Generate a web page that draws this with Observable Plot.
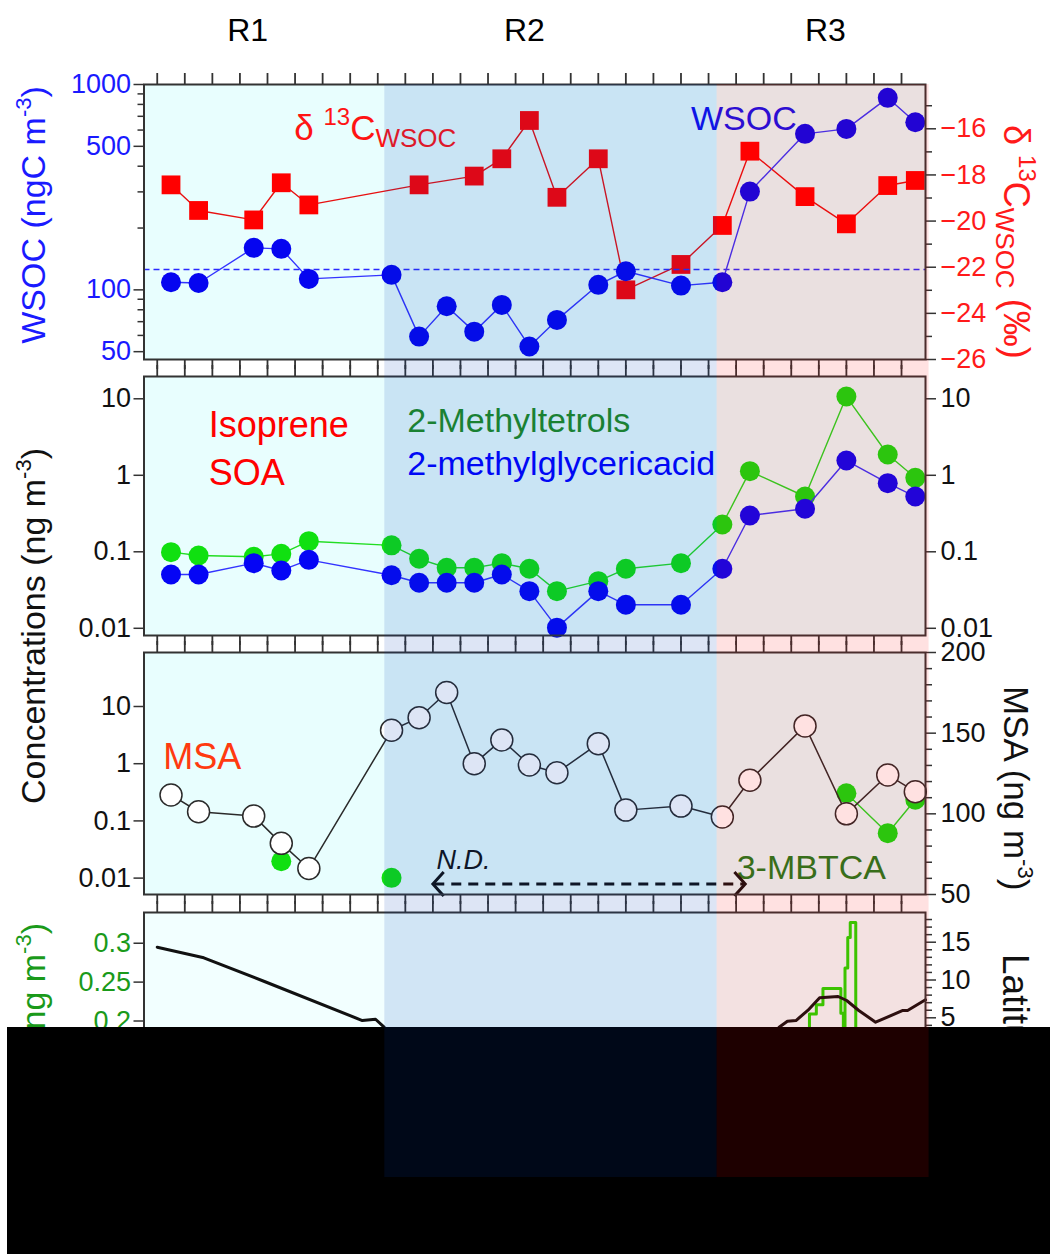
<!DOCTYPE html>
<html>
<head>
<meta charset="utf-8">
<script src="https://cdn.jsdelivr.net/npm/d3@7"></script>
<script src="https://cdn.jsdelivr.net/npm/@observablehq/plot@0.6"></script>
<style>
  html, body { margin: 0; padding: 0; background: #fff; }
  #chart { position: relative; width: 1050px; height: 1254px; overflow: hidden; background: #fff; }
  #chart svg { position: absolute; left: 0; top: 0; }
  #blackout { position: absolute; left: 7px; top: 1027px; width: 1043px; height: 227px; background: #000; }
</style>
</head>
<body>
<div id="chart"></div>
<script>
// ================= DATA =================
// sample positions along the cruise axis (in tick units; one tick = one bin)
const sampleX = [0.5, 1.5, 3.5, 4.5, 5.5, 8.5, 9.5, 10.5, 11.5, 12.5, 13.5, 14.5, 16, 17, 19, 20.5, 21.5, 23.5, 25, 26.5, 27.5];
// panel 1
const wsoc = [108.9, 108, 160.2, 158.4, 113.1, 118.3, 59.2, 83.2, 62.6, 84.5, 53, 71.4, 105.8, 123.2, 104.9, 108.9, 301, 575, 608, 861, 655];
const wsocMean = 125.6;
const d13C = [-18.43, -19.54, -19.95, -18.34, -19.30, null, -18.43, null, -18.05, -17.30, -15.64, -18.97, -17.30, -22.98, -21.88, -20.19, -16.97, -18.94, -20.12, -18.46, -18.24];
// panel 2
const methyltetrols = [0.099, 0.0895, 0.086, 0.094, 0.1376, 0.1214, 0.081, 0.0618, 0.0618, 0.071, 0.060, 0.0306, 0.0413, 0.060, 0.071, 0.2275, 1.132, 0.528, 10.7, 1.87, 0.927];
const methylglyceric = [0.0505, 0.0505, 0.071, 0.057, 0.0785, 0.0494, 0.0394, 0.0394, 0.0394, 0.0505, 0.0306, 0.0102, 0.0306, 0.0203, 0.0203, 0.060, 0.298, 0.365, 1.56, 0.789, 0.528];
// panel 3
const msa = [111.7, 101.3, 98.6, 81.7, 66.1, 151.8, 159.6, 175.2, 131.1, 145.8, 130.3, 125.5, 143.5, 102.3, 104.8, 98.0, 120.8, 154.5, 100.0, 124.1, 113.7];
const mbtca = [null, null, null, 0.0197, null, 0.0101, null, null, null, null, null, null, null, null, null, null, null, null, 0.305, 0.061, 0.234];
// panel 4
const mbtcaHiX = [23.3, 23.66, 23.91, 24.15, 24.80, 24.89, 24.95, 25.05, 25.14, 25.34, 25.6];
const mbtcaHiV = [0.15, 0.209, 0.221, 0.2419, 0.21, 0.15, 0.268, 0.3073, 0.3266, 0.15, 0.15];
const latX = [0, 1.69, 3.89, 7.44, 7.92, 8.23, null, 22.56, 22.86, 23.17, 23.60, 24.03, 24.70, 25.01, 25.45, 26.06, 27.05, 27.22, 27.87];
const latV = [14.34, 12.94, 9.80, 4.64, 4.81, 3.76, null, 3.76, 4.55, 4.64, 5.97, 7.65, 7.82, 7.29, 5.97, 4.42, 5.97, 5.97, 7.38];
// regions
const regionNames = ["R1", "R2", "R3"];
const regionFrom = [-0.48, 8.256, 20.31];
const regionTo = [8.256, 20.31, 28.0];
const regionHeadX = [3.28, 13.32, 24.24];
// ticks
const xTicks = d3.range(0, 28);
const wsocMajor = [50, 100, 500, 1000];
const wsocMinor = [60, 70, 80, 90, 200, 300, 400, 600, 700, 800, 900];
const d13Major = [-26, -24, -22, -20, -18, -16];
const d13Minor = [-25, -23, -21, -19, -17, -15];
const concTicks = [0.01, 0.1, 1, 10];
const msaMajor = [50, 100, 150, 200];
const msaMinor = [60, 70, 80, 90, 110, 120, 130, 140, 160, 170, 180, 190];
const mbLeftTicks = [0.05, 0.1, 0.15, 0.2, 0.25, 0.3];
const latMajor = [-15, -10, -5, 0, 5, 10, 15];
const latMinor = d3.range(-15, 19).filter(d => d % 5 !== 0);
// annotations
const p1Labels = [{x: 19.36, y: 602, text: "WSOC"}];
const d13Label = {x: 4.99, y: -16.5};
const isopreneLabels = [{x: 1.87, y: 3.15, text: "Isoprene"}, {x: 1.87, y: 0.736, text: "SOA"}];
const tracerLabels = [{x: 9.07, y: 3.66, text: "2-Methyltetrols", c: "#1e8c1e"}, {x: 9.07, y: 0.994, text: "2-methylglycericacid", c: "#0000ff"}];
const msaLabel = [{x: 0.22, y: 0.815, text: "MSA"}];
const mbtcaLabel = [{x: 21.02, y: 0.0097, text: "3-MBTCA"}];
const ndLabel = [{x: 10.13, y: 0.0147, text: "N.D."}];
const ndArrow = [{x1: 10.0, x2: 21.33, y: 0.0079}];

// ================= LAYOUT / STYLE =================
const FONT = '"Liberation Sans", Arial, Helvetica, sans-serif';
const W = 1050, H = 1254;
const FRAME_L = 143.5, FRAME_R = 925;
const X_DOMAIN = [-0.48, 27.87];
const BG = "#e8fefe", BG4 = "#f2ffff", AX = "#333";
const TICKFONT = 27;

function layer({top, bottom, y, marks}) {
  return Plot.plot({
    width: W, height: H,
    marginLeft: FRAME_L, marginRight: W - FRAME_R,
    marginTop: top, marginBottom: H - bottom,
    x: {domain: X_DOMAIN, axis: null},
    y: {...y, axis: null},
    style: {background: "transparent", overflow: "visible", fontFamily: FONT},
    marks
  });
}
const noText = () => "";
const minusFmt = d => (d < 0 ? "\u2212" : "") + Math.abs(d);
const xTop = () => Plot.axisX({anchor: "top", ticks: xTicks, tickSize: 12, tickFormat: noText, stroke: AX, strokeWidth: 1.8, label: null});
const xBottom = () => Plot.axisX({anchor: "bottom", ticks: xTicks, tickSize: 10, tickFormat: noText, stroke: AX, strokeWidth: 1.8, label: null});
const yAxis = (anchor, ticks, fill, fmt = d => String(d)) => Plot.axisY({anchor, ticks, tickSize: 10, tickPadding: anchor === "left" ? 3 : 5, tickFormat: fmt, fontSize: TICKFONT, fill, stroke: AX, strokeWidth: 1.5, label: null});
const yMinor = (anchor, ticks) => Plot.axisY({anchor, ticks, tickSize: 6, tickFormat: noText, stroke: AX, strokeWidth: 1.5, label: null});
// open chevron used as arrowhead ("<" pointing left at rotate 0)
const chevron = {draw(ctx, size) { const r = Math.sqrt(size / Math.PI); ctx.moveTo(0.9 * r, -r); ctx.lineTo(0, 0); ctx.lineTo(0.9 * r, r); }};

function richText(svg, {x, y, rotate = 0, anchor = "start", fill, size, parts}) {
  const t = d3.select(svg).append("text")
    .attr("transform", `translate(${x},${y}) rotate(${rotate})`)
    .attr("text-anchor", anchor).attr("fill", fill)
    .attr("font-size", size).style("font-family", FONT).style("white-space", "pre");
  let shift = 0;
  for (const p of parts) {
    const s = t.append("tspan").text(p.t);
    if (p.size) s.attr("font-size", p.size);
    const target = p.dy || 0;
    if (target !== shift) { s.attr("dy", target - shift); shift = target; }
  }
}

const rows = sampleX.map((x, i) => ({
  x, wsoc: wsoc[i], d13: d13C[i], mt: methyltetrols[i], mg: methylglyceric[i], msa: msa[i], mb: mbtca[i]
}));
const d13Rows = rows.filter(d => d.d13 != null);
const mbHi = mbtcaHiX.map((x, i) => ({x, v: mbtcaHiV[i]}));
const lat = latX.map((x, i) => ({x, v: latV[i]}));
const ndHeads = ndArrow.flatMap(d => [{x: d.x1, y: d.y, rot: 0}, {x: d.x2, y: d.y, rot: 180}]);

// ================= PANEL 1 =================
const p1R = layer({top: 84, bottom: 359, y: {domain: [-26, -14.08]}, marks: [
  Plot.frame({fill: BG, stroke: "none"}),
  Plot.line(d13Rows, {x: "x", y: "d13", stroke: "#e81010", strokeWidth: 1.4}),
  Plot.dot(d13Rows, {x: "x", y: "d13", symbol: "square", r: 10.6, fill: "#ff0000"}),
  yAxis("right", d13Major, "#ff1a1a", minusFmt),
  yMinor("right", d13Minor),
  xTop(), xBottom()
]});
const p1L = layer({top: 84, bottom: 359, y: {type: "log", domain: [45.8, 1000]}, marks: [
  Plot.ruleY([wsocMean], {stroke: "#2a2aff", strokeWidth: 1.5, strokeDasharray: "6,4"}),
  Plot.line(rows, {x: "x", y: "wsoc", stroke: "#3333ff", strokeWidth: 1.4}),
  Plot.dot(rows, {x: "x", y: "wsoc", r: 10, fill: "#0505f0"}),
  yAxis("left", wsocMajor, "#1a1aff"),
  yMinor("left", wsocMinor),
  Plot.text(p1Labels, {x: "x", y: "y", text: "text", textAnchor: "start", lineAnchor: "bottom", fontSize: 34, fill: "#1010ee"}),
  Plot.frame({stroke: AX, strokeWidth: 2})
]});

// ================= PANEL 2 =================
const p2 = layer({top: 376, bottom: 635, y: {type: "log", domain: [0.00805, 19.56]}, marks: [
  Plot.frame({fill: BG, stroke: "none"}),
  Plot.line(rows, {x: "x", y: "mt", stroke: "#22dd22", strokeWidth: 1.4}),
  Plot.dot(rows, {x: "x", y: "mt", r: 10, fill: "#10e010"}),
  Plot.line(rows, {x: "x", y: "mg", stroke: "#3333ff", strokeWidth: 1.4}),
  Plot.dot(rows, {x: "x", y: "mg", r: 10, fill: "#0505f5"}),
  yAxis("left", concTicks, "#111"),
  yAxis("right", concTicks, "#111"),
  Plot.text(isopreneLabels, {x: "x", y: "y", text: "text", textAnchor: "start", lineAnchor: "bottom", fontSize: 36, fill: "#ff0000"}),
  Plot.text(tracerLabels, {x: "x", y: "y", text: "text", textAnchor: "start", lineAnchor: "bottom", fontSize: 34, fill: d => d.c}),
  xTop(), xBottom(),
  Plot.frame({stroke: AX, strokeWidth: 2})
]});

// ================= PANEL 3 =================
const p3L = layer({top: 652, bottom: 894, y: {type: "log", domain: [0.00517, 87.9]}, marks: [
  Plot.frame({fill: BG, stroke: "none"}),
  Plot.line(rows, {x: "x", y: "mb", stroke: "#22dd22", strokeWidth: 1.4}),
  Plot.dot(rows, {x: "x", y: "mb", r: 10, fill: "#10e010"}),
  yAxis("left", concTicks, "#111"),
  Plot.text(msaLabel, {x: "x", y: "y", text: "text", textAnchor: "start", lineAnchor: "bottom", fontSize: 36, fill: "#ff3a10"}),
  Plot.text(mbtcaLabel, {x: "x", y: "y", text: "text", textAnchor: "start", lineAnchor: "bottom", fontSize: 34, fill: "#1e7d1e"}),
  Plot.text(ndLabel, {x: "x", y: "y", text: "text", textAnchor: "start", lineAnchor: "bottom", fontSize: 27, fontStyle: "italic", fill: "#111"}),
  Plot.link(ndArrow, {x1: d => d.x1 + 0.05, x2: d => d.x2 - 0.05, y1: "y", y2: "y", stroke: "#111", strokeWidth: 3, strokeDasharray: "10,7"}),
  Plot.dot(ndHeads, {x: "x", y: "y", rotate: "rot", symbol: chevron, r: 12, fill: "none", stroke: "#111", strokeWidth: 3, strokeLinejoin: "miter"}),
  xTop(), xBottom()
]});
const p3R = layer({top: 652, bottom: 894, y: {domain: [50, 200]}, marks: [
  Plot.line(rows, {x: "x", y: "msa", stroke: "#2a2a2a", strokeWidth: 1.5}),
  Plot.dot(rows, {x: "x", y: "msa", r: 11, fill: "#ffffff", stroke: "#2a2a2a", strokeWidth: 1.5}),
  yAxis("right", msaMajor, "#111"),
  yMinor("right", msaMinor),
  Plot.frame({stroke: AX, strokeWidth: 2})
]});

// ================= PANEL 4 =================
const p4L = layer({top: 912, bottom: 1170, y: {domain: [0.0078, 0.3395]}, marks: [
  Plot.frame({fill: BG4, stroke: "none"}),
  Plot.line(mbHi, {x: "x", y: "v", curve: "step-after", stroke: "#22dd00", strokeWidth: 3}),
  yAxis("left", mbLeftTicks, "#1a9a1a"),
  xTop()
]});
const p4R = layer({top: 912, bottom: 1170, y: {domain: [-15.2, 18.93]}, marks: [
  Plot.line(lat, {x: "x", y: "v", stroke: "#111", strokeWidth: 3}),
  yAxis("right", latMajor, "#111"),
  yMinor("right", latMinor),
  Plot.frame({stroke: AX, strokeWidth: 2})
]});

// rich labels (sub/superscripts)
{
  const xs = p1R.scale("x"), ys = p1R.scale("y");
  richText(p1R, {x: xs.apply(d13Label.x), y: ys.apply(d13Label.y), fill: "#ff1414", size: 35,
    parts: [{t: "\u03b4 "}, {t: "13", size: 24, dy: -15}, {t: "C", dy: 0}, {t: "WSOC", size: 26, dy: 7}]});
}
richText(p1L, {x: 45, y: 215, rotate: -90, anchor: "middle", fill: "#1a1aff", size: 34,
  parts: [{t: "WSOC (ngC m"}, {t: "-3", size: 22, dy: -14}, {t: ")", dy: 0}]});
richText(p1R, {x: 1004, y: 125, rotate: 90, anchor: "start", fill: "#ff1a1a", size: 36,
  parts: [{t: "\u03b4 "}, {t: "13", size: 24, dy: -15}, {t: "C", dy: 0}, {t: "WSOC", size: 26, dy: 8}, {t: " (\u2030)", dy: 0}]});
richText(p2, {x: 45, y: 626, rotate: -90, anchor: "middle", fill: "#111", size: 34,
  parts: [{t: "Concentrations (ng m"}, {t: "-3", size: 22, dy: -14}, {t: ")", dy: 0}]});
richText(p3R, {x: 1004, y: 686, rotate: 90, anchor: "start", fill: "#111", size: 35,
  parts: [{t: "MSA (ng m"}, {t: "-3", size: 22, dy: -14}, {t: ")", dy: 0}]});
richText(p4L, {x: 45, y: 923, rotate: -90, anchor: "end", fill: "#1a9a1a", size: 34,
  parts: [{t: "3-MBTCA (ng m"}, {t: "-3", size: 22, dy: -14}, {t: ")", dy: 0}]});
richText(p4R, {x: 1003, y: 954, rotate: 90, anchor: "start", fill: "#111", size: 37,
  parts: [{t: "Latitude (\u00b0N)"}]});

// ================= OVERLAY (regions) =================
const overlay = Plot.plot({
  width: W, height: H,
  marginLeft: FRAME_L, marginRight: W - FRAME_R, marginTop: 84, marginBottom: H - 1177,
  x: {domain: X_DOMAIN, axis: null},
  style: {background: "transparent", overflow: "visible", fontFamily: FONT},
  marks: [
    Plot.rect([1], {x1: i => regionFrom[i], x2: i => regionTo[i], fill: "rgb(0,60,180)", fillOpacity: 0.133}),
    Plot.rect([2], {x1: i => regionFrom[i], x2: i => regionTo[i], fill: "rgb(255,0,0)", fillOpacity: 0.118}),
    Plot.text(regionNames, {x: (d, i) => regionHeadX[i], text: d => d, frameAnchor: "top", dy: -44, lineAnchor: "bottom", fontSize: 32, fill: "#000"})
  ]
});

const chart = document.getElementById("chart");
for (const svg of [p1R, p1L, p2, p3L, p3R, p4L, p4R]) chart.appendChild(svg);
const black = document.createElement("div");
black.id = "blackout";
chart.appendChild(black);
chart.appendChild(overlay);
</script>
</body>
</html>
